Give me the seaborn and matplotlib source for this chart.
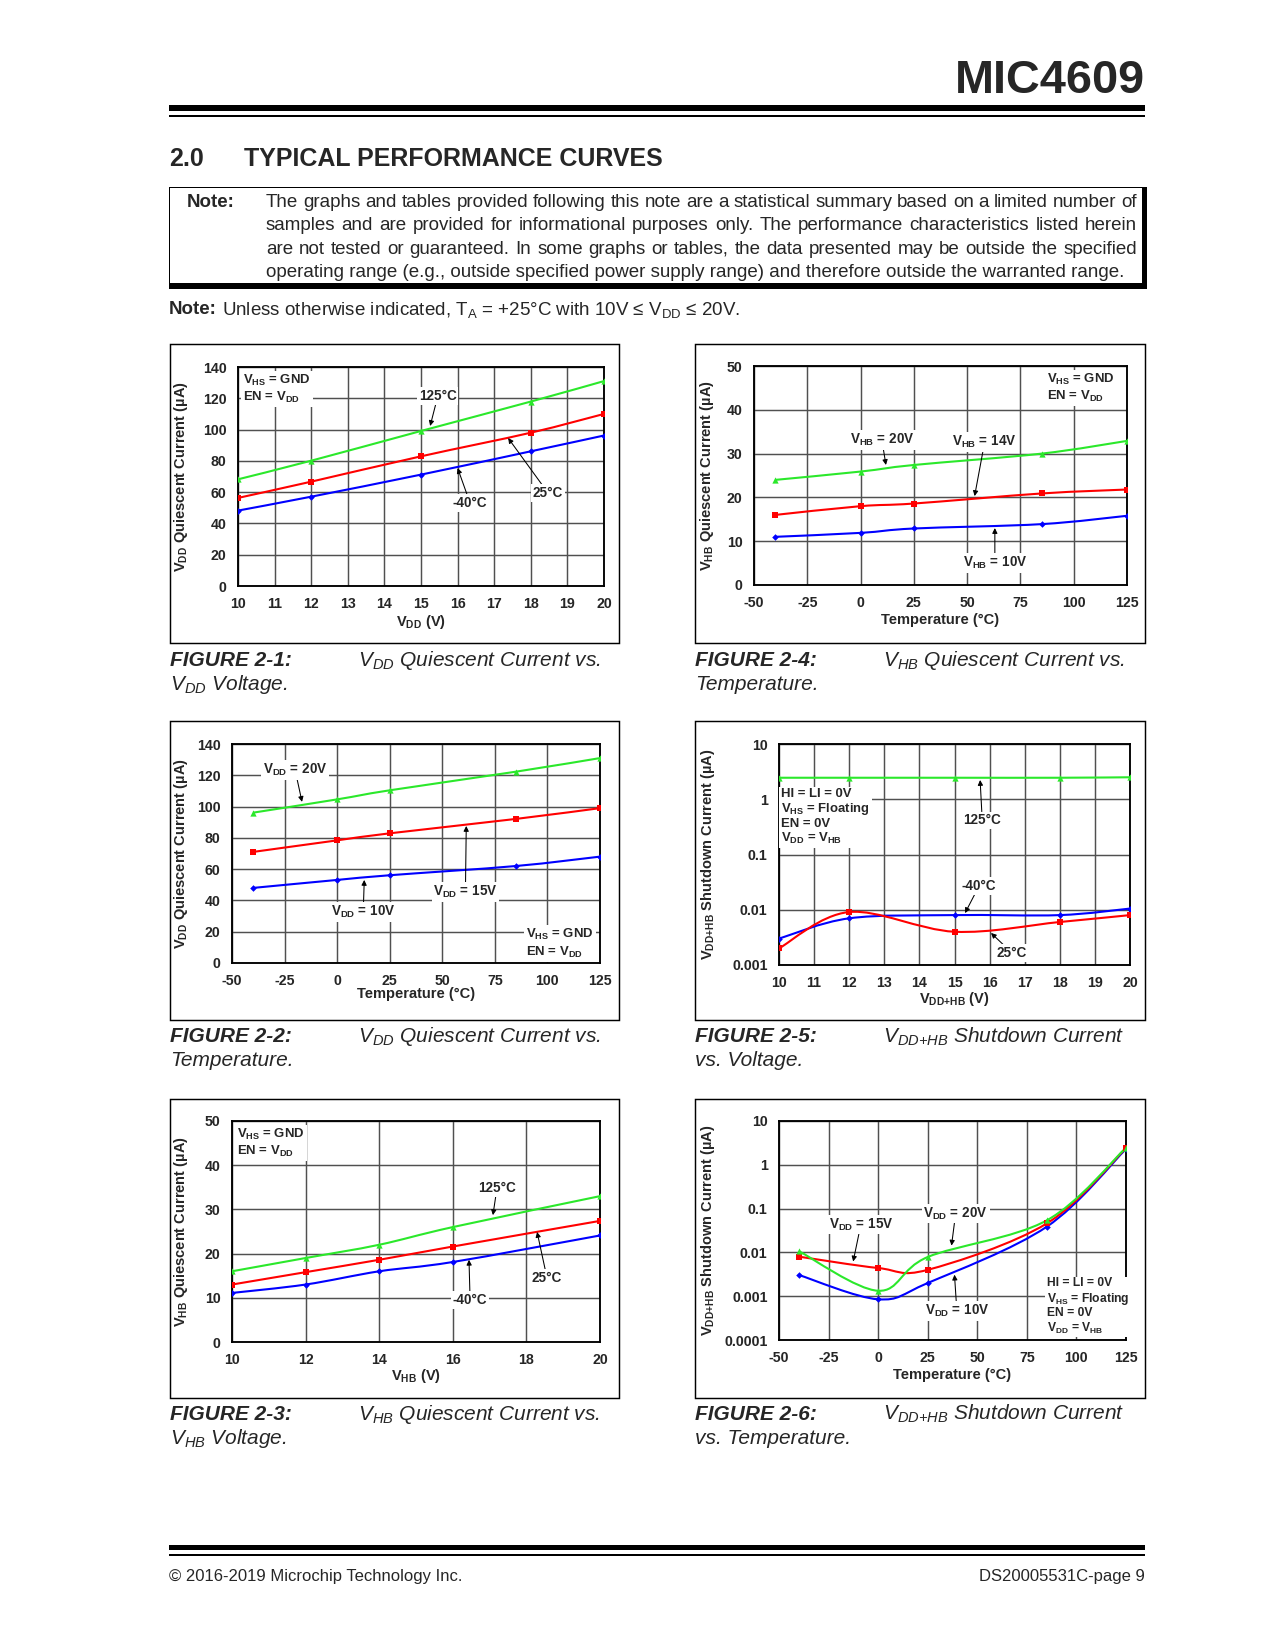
import numpy as np
import matplotlib
matplotlib.use('Agg')
import matplotlib.pyplot as plt
import seaborn as sns
from matplotlib.path import Path
from matplotlib.patches import PathPatch, Rectangle
from matplotlib.ticker import NullLocator

# ==========================================
# DADOS
# ==========================================
vdd_volts = [10, 12, 15, 18, 20]
vhb_volts = [10, 12, 14, 16, 20]
temps_c = [-40, 0, 25, 85, 125]

# Fig 2-1: IDD x VDD
f1_m40 = [48.2, 57.1, 71.2, 86.1, 96.2]
f1_25 = [56.3, 66.7, 82.9, 98.0, 110.0]
f1_125 = [68.2, 80.1, 99.1, 117.9, 131.0]

# Fig 2-4: IHB x temperatura
f4_10v = [11.0, 11.9, 12.9, 13.9, 15.8]
f4_14v = [16.0, 18.0, 18.6, 20.9, 21.8]
f4_20v = [24.0, 25.9, 27.4, 30.0, 32.9]

# Fig 2-2: IDD x temperatura
f2_10v = [48.0, 53.1, 56.1, 62.0, 68.0]
f2_15v = [71.0, 78.4, 82.9, 92.1, 99.0]
f2_20v = [96.1, 104.6, 110.4, 122.3, 131.0]

# Fig 2-5: shutdown x tensao (log)
f5_m40 = [0.0030, 0.0070, 0.0080, 0.0080, 0.0105]
f5_25 = [0.0020, 0.0091, 0.0040, 0.0060, 0.0080]
f5_125 = [2.45, 2.45, 2.45, 2.45, 2.5]

# Fig 2-3: IHB x VHB
f3_m40 = [11.1, 13.0, 16.0, 18.1, 24.1]
f3_25 = [13.0, 15.8, 18.6, 21.6, 27.4]
f3_125 = [16.0, 19.0, 22.0, 26.0, 33.0]

# Fig 2-6: shutdown x temperatura (log)
f6_10v = [0.00305, 0.00085, 0.0020, 0.0385, 2.3]
f6_15v = [0.0080, 0.0044, 0.0040, 0.0457, 2.4]
f6_20v = [0.0107, 0.00133, 0.00785, 0.0537, 2.45]

temp_ticks = [-50, -25, 0, 25, 50, 75, 100, 125]

# ==========================================
# ESTILO
# ==========================================
sns.set_style('white')
plt.rcParams['font.family'] = ['Liberation Sans', 'DejaVu Sans']
plt.rcParams['mathtext.default'] = 'regular'

GREEN, RED, BLUE = '#2BE82B', '#FF0000', '#0000FF'
GRID = '#505050'
W, H = 1275, 1650

fig = plt.figure(figsize=(8.5, 11), dpi=150)
renderer = fig.canvas.get_renderer()


def fx(x):
    return x / W


def fy(y):
    return 1 - y / H


def rect(x0, y0, x1, y1, fill=True, lw=0.7):
    fig.add_artist(Rectangle((fx(x0), fy(y1)), (x1 - x0) / W, (y1 - y0) / H,
                             transform=fig.transFigure, fill=fill,
                             facecolor='black' if fill else 'none',
                             edgecolor='black', lw=0 if fill else lw))


def justified(x0, x1, y, text, size):
    # texto justificado: mede cada palavra e distribui o espaco
    words = text.split(' ')
    widths = []
    for w in words:
        t = fig.text(0, 0, w, fontsize=size)
        widths.append(t.get_window_extent(renderer).width)
        t.remove()
    gap = ((x1 - x0) - sum(widths)) / (len(words) - 1)
    x = x0
    for w, wd in zip(words, widths):
        fig.text(fx(x), fy(y), w, fontsize=size, va='baseline')
        x += wd + gap


def smooth_line(ax, xs, ys, color, logy=False):
    # curva suavizada (bezier tipo catmull-rom), como no excel
    x = np.asarray(xs, float)
    y = np.log10(ys) if logy else np.asarray(ys, float)
    n = len(x)
    verts = [(x[0], y[0])]
    codes = [Path.MOVETO]
    for i in range(n - 1):
        i0, i3 = max(i - 1, 0), min(i + 2, n - 1)
        c1 = (x[i] + (x[i + 1] - x[i0]) / 6, y[i] + (y[i + 1] - y[i0]) / 6)
        c2 = (x[i + 1] - (x[i3] - x[i]) / 6, y[i + 1] - (y[i3] - y[i]) / 6)
        verts += [c1, c2, (x[i + 1], y[i + 1])]
        codes += [Path.CURVE4] * 3
    verts = np.array(verts)
    if logy:
        verts[:, 1] = 10 ** verts[:, 1]
    ax.add_patch(PathPatch(Path(verts, codes), fc='none', ec=color, lw=1.0, zorder=3))


def series(ax, xs, ys, color, marker, size, logy=False):
    smooth_line(ax, xs, ys, color, logy)
    sns.scatterplot(x=xs, y=ys, ax=ax, color=color, marker=marker, s=size,
                    linewidth=0, zorder=4, legend=False)


def make_axes(box, plot, xlim, xticks, ylim, yticks, ylabels, xlabel, ylabel,
              xl_off, yl_off, logy=False):
    rect(*box, fill=False, lw=0.7)
    x0, y0, x1, y1 = plot
    ax = fig.add_axes([fx(x0), fy(y1), (x1 - x0) / W, (y1 - y0) / H])
    if logy:
        ax.set_yscale('log')
    ax.set_xlim(*xlim)
    ax.set_ylim(*ylim)
    ax.set_xticks(xticks, [str(t) for t in xticks], fontweight='bold')
    ax.set_yticks(yticks, ylabels, fontweight='bold')
    ax.yaxis.set_minor_locator(NullLocator())
    ax.xaxis.set_minor_locator(NullLocator())
    ax.tick_params(length=0, labelsize=6.8, pad=5.5)
    ax.grid(True, color=GRID, lw=0.7)
    ax.set_axisbelow(True)
    for sp in ax.spines.values():
        sp.set_color('black')
        sp.set_linewidth(0.9)
    ax.set_xlabel(xlabel, fontsize=7, fontweight='bold', va='center')
    ax.set_ylabel(ylabel, fontsize=7, fontweight='bold', va='center')
    ax.xaxis.set_label_coords(0.5, xl_off)
    ax.yaxis.set_label_coords(yl_off, 0.5)
    return ax


def note(ax, text, xy, xytext):
    ax.annotate(text, xy=xy, xytext=xytext, fontsize=6.5, fontweight='bold',
                ha='center', va='center', zorder=6,
                bbox=dict(boxstyle='square,pad=0.12', fc='white', ec='none'),
                arrowprops=dict(arrowstyle='-|>', color='black', lw=0.5,
                                mutation_scale=5, shrinkA=0, shrinkB=0))


def box_text(ax, text, x, y, ha='left', va='top', size=6.3, ls=1.2):
    ax.text(x, y, text, transform=ax.transAxes, ha=ha, va=va, fontsize=size,
            fontweight='bold', linespacing=ls, zorder=6,
            bbox=dict(boxstyle='square,pad=0.15', fc='white', ec='none'))


def caption(x_fig, x_desc, y, num, line1, line2):
    fig.text(fx(x_fig), fy(y), num, fontsize=10, fontweight='bold', style='italic', va='center')
    fig.text(fx(x_desc), fy(y), line1, fontsize=10, style='italic', va='center')
    fig.text(fx(x_fig), fy(y + 24), line2, fontsize=10, style='italic', va='center')


# ==========================================
# CABECALHO DA PAGINA
# ==========================================
fig.text(fx(1145), fy(93), 'MIC4609', ha='right', va='baseline', fontsize=22.5, fontweight='bold')
rect(169, 105, 1145, 111)
rect(169, 115, 1145, 117)

fig.text(fx(169), fy(166), '2.0', va='baseline', fontsize=12, fontweight='bold')
fig.text(fx(244), fy(166), 'TYPICAL PERFORMANCE CURVES', va='baseline', fontsize=12, fontweight='bold')

# caixa da nota
rect(169, 187, 1147, 188)
rect(169, 187, 170, 289)
rect(1142, 187, 1147, 289)
rect(169, 283, 1147, 289)
fig.text(fx(187), fy(207), 'Note:', fontsize=9, fontweight='bold', va='baseline')
nota = [
    'The graphs and tables provided following this note are a statistical summary based on a limited number of',
    'samples and are provided for informational purposes only. The performance characteristics listed herein',
    'are not tested or guaranteed. In some graphs or tables, the data presented may be outside the specified',
    'operating range (e.g., outside specified power supply range) and therefore outside the warranted range.',
]
for i, linha in enumerate(nota):
    yl = 207 + i * 23.3
    if i < 3:
        justified(266, 1137, yl, linha, 9)
    else:
        fig.text(fx(266), fy(yl), linha, fontsize=9, va='baseline')

fig.text(fx(169), fy(310), 'Note:', fontsize=9, fontweight='bold', va='center')
fig.text(fx(222), fy(310), 'Unless otherwise indicated, T$_A$ = +25°C with 10V ≤ V$_{DD}$ ≤ 20V.',
         fontsize=9, va='center')

# ==========================================
# FIGURA 2-1
# ==========================================
ax1 = make_axes((170, 344, 619, 643), (238, 367, 604, 586), (10, 20), list(range(10, 21)),
                (0, 140), list(range(0, 141, 20)), [str(v) for v in range(0, 141, 20)],
                'V$_{DD}$ (V)', 'V$_{DD}$ Quiescent Current (µA)', -0.164, -0.156)
series(ax1, vdd_volts, f1_m40, BLUE, 'D', 5)
series(ax1, vdd_volts, f1_25, RED, 's', 10)
series(ax1, vdd_volts, f1_125, GREEN, '^', 9)
note(ax1, '125°C', (15.25, 102.3), (15.46, 121.5))
note(ax1, '25°C', (17.38, 94.6), (18.47, 59.5))
note(ax1, '-40°C', (16.0, 75.4), (16.34, 53.1))
box_text(ax1, 'V$_{HS}$ = GND\nEN = V$_{DD}$', 0.014, 0.975)
caption(170, 358, 660, 'FIGURE 2-1:', 'V$_{DD}$ Quiescent Current vs.', 'V$_{DD}$ Voltage.')

# ==========================================
# FIGURA 2-4
# ==========================================
ax4 = make_axes((695, 344, 1145, 643), (754, 366, 1127, 585), (-50, 125), temp_ticks,
                (0, 50), list(range(0, 51, 10)), [str(v) for v in range(0, 51, 10)],
                'Temperature (°C)', 'V$_{HB}$ Quiescent Current (µA)', -0.16, -0.126)
series(ax4, temps_c, f4_10v, BLUE, 'D', 5)
series(ax4, temps_c, f4_14v, RED, 's', 10)
series(ax4, temps_c, f4_20v, GREEN, '^', 9)
note(ax4, 'V$_{HB}$ = 20V', (11.9, 27.4), (10.0, 33.1))
note(ax4, 'V$_{HB}$ = 14V', (53.5, 20.3), (58.2, 32.6))
note(ax4, 'V$_{HB}$ = 10V', (63.0, 13.0), (63.0, 5.0))
box_text(ax4, 'V$_{HS}$ = GND\nEN = V$_{DD}$', 0.785, 0.975)
caption(695, 883, 660, 'FIGURE 2-4:', 'V$_{HB}$ Quiescent Current vs.', 'Temperature.')

# ==========================================
# FIGURA 2-2
# ==========================================
ax2 = make_axes((170, 721, 619, 1020), (232, 744, 600, 963), (-50, 125), temp_ticks,
                (0, 140), list(range(0, 141, 20)), [str(v) for v in range(0, 141, 20)],
                'Temperature (°C)', 'V$_{DD}$ Quiescent Current (µA)', -0.142, -0.139)
series(ax2, temps_c, f2_10v, BLUE, 'D', 5)
series(ax2, temps_c, f2_15v, RED, 's', 10)
series(ax2, temps_c, f2_20v, GREEN, '^', 9)
note(ax2, 'V$_{DD}$ = 20V', (-16.7, 103.0), (-20.0, 123.4))
note(ax2, 'V$_{DD}$ = 15V', (61.4, 87.6), (61.0, 45.4))
note(ax2, 'V$_{DD}$ = 10V', (12.9, 53.1), (12.4, 32.6))
box_text(ax2, 'V$_{HS}$ = GND\nEN = V$_{DD}$', 0.80, 0.015, va='bottom')
caption(170, 358, 1037, 'FIGURE 2-2:', 'V$_{DD}$ Quiescent Current vs.', 'Temperature.')

# ==========================================
# FIGURA 2-5
# ==========================================
ax5 = make_axes((695, 721, 1145, 1020), (779, 744, 1130, 965), (10, 20), list(range(10, 21)),
                (0.001, 10), [0.001, 0.01, 0.1, 1, 10], ['0.001', '0.01', '0.1', '1', '10'],
                'V$_{DD{+}HB}$ (V)', 'V$_{DD{+}HB}$ Shutdown Current (µA)', -0.154, -0.202, logy=True)
series(ax5, vdd_volts, f5_m40, BLUE, 'D', 5, logy=True)
series(ax5, vdd_volts, f5_25, RED, 's', 10, logy=True)
series(ax5, vdd_volts, f5_125, GREEN, '^', 9, logy=True)
note(ax5, '125°C', (15.73, 2.23), (15.79, 0.417))
note(ax5, '-40°C', (15.3, 0.0087), (15.7, 0.027))
note(ax5, '25°C', (16.04, 0.0038), (16.64, 0.00165))
box_text(ax5, 'HI = LI = 0V\nV$_{HS}$ = Floating\nEN = 0V\nV$_{DD}$ = V$_{HB}$', 0.006, 0.80, ls=1.1)
caption(695, 883, 1037, 'FIGURE 2-5:', 'V$_{DD{+}HB}$ Shutdown Current', 'vs. Voltage.')

# ==========================================
# FIGURA 2-3
# ==========================================
ax3 = make_axes((170, 1099, 619, 1398), (232, 1121, 600, 1342), (10, 20), list(range(10, 21, 2)),
                (0, 50), list(range(0, 51, 10)), [str(v) for v in range(0, 51, 10)],
                'V$_{HB}$ (V)', 'V$_{HB}$ Quiescent Current (µA)', -0.154, -0.139)
series(ax3, vhb_volts, f3_m40, BLUE, 'D', 5)
series(ax3, vhb_volts, f3_25, RED, 's', 10)
series(ax3, vhb_volts, f3_125, GREEN, '^', 9)
note(ax3, '125°C', (17.09, 28.7), (17.2, 34.8))
note(ax3, '25°C', (18.29, 24.9), (18.56, 14.5))
note(ax3, '-40°C', (16.44, 18.6), (16.47, 9.5))
box_text(ax3, 'V$_{HS}$ = GND\nEN = V$_{DD}$', 0.014, 0.975)
caption(170, 358, 1414, 'FIGURE 2-3:', 'V$_{HB}$ Quiescent Current vs.', 'V$_{HB}$ Voltage.')

# ==========================================
# FIGURA 2-6
# ==========================================
ax6 = make_axes((695, 1099, 1145, 1398), (779, 1121, 1126, 1340), (-50, 125), temp_ticks,
                (0.0001, 10), [0.0001, 0.001, 0.01, 0.1, 1, 10],
                ['0.0001', '0.001', '0.01', '0.1', '1', '10'],
                'Temperature (°C)', 'V$_{DD{+}HB}$ Shutdown Current (µA)', -0.16, -0.205, logy=True)
series(ax6, temps_c, f6_10v, BLUE, 'D', 5, logy=True)
series(ax6, temps_c, f6_15v, RED, 's', 10, logy=True)
series(ax6, temps_c, f6_20v, GREEN, '^', 9, logy=True)
note(ax6, 'V$_{DD}$ = 15V', (-12.6, 0.0062), (-8.7, 0.0437))
note(ax6, 'V$_{DD}$ = 20V', (37.0, 0.0143), (39.1, 0.078))
note(ax6, 'V$_{DD}$ = 10V', (38.5, 0.0031), (39.7, 0.00046))
box_text(ax6, 'HI = LI = 0V\nV$_{HS}$ = Floating\nEN = 0V\nV$_{DD}$ = V$_{HB}$', 0.772, 0.02,
         va='bottom', size=5.8, ls=1.1)
caption(695, 883, 1414, 'FIGURE 2-6:', 'V$_{DD{+}HB}$ Shutdown Current', 'vs. Temperature.')

# ==========================================
# RODAPE
# ==========================================
rect(169, 1545, 1145, 1550)
rect(169, 1554, 1145, 1556)
fig.text(fx(169), fy(1577), '© 2016-2019 Microchip Technology Inc.', fontsize=8, va='center')
fig.text(fx(1145), fy(1577), 'DS20005531C-page 9', fontsize=8, va='center', ha='right')

fig.savefig('out.png', dpi=150, facecolor='white')
